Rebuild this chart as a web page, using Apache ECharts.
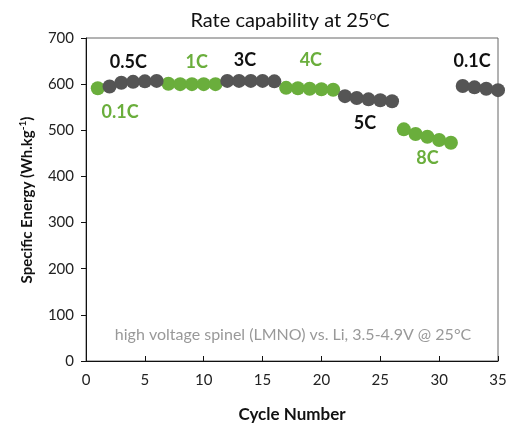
<!DOCTYPE html>
<html>
<head>
<meta charset="utf-8">
<script src="https://cdn.jsdelivr.net/npm/echarts@6/dist/echarts.min.js"></script>
<style>
  html, body { margin: 0; padding: 0; background: #fff; }
  #chart { width: 519px; height: 428px; }
</style>
</head>
<body>
<div id="chart"></div>
<script>
// rate steps, in test order
const stepRates = ["0.1C", "0.5C", "1C", "3C", "4C", "5C", "8C", "0.1C"];
const stepCycleCount = [1, 5, 5, 5, 5, 5, 5, 4];
// specific energy per cycle (Wh/kg), cycles 1..35
const energy = [
  591,
  595, 603, 605, 606, 607,
  601, 600, 600, 600, 600,
  607, 607, 607, 607, 606,
  592, 591, 590, 589, 588,
  574, 570, 567, 565, 563,
  502, 492, 486, 479, 473,
  596, 593, 590, 587
];
const xTicks = [0, 5, 10, 15, 20, 25, 30, 35];

const GREEN = "#6aae3c";
const GRAY = "#555555";
const FONT = "Lato";

// split cycles into alternating green / gray steps
const greenPts = [];
const grayPts = [];
let cyc = 1;
stepCycleCount.forEach((n, i) => {
  for (let k = 0; k < n; k++) {
    const pt = [cyc, energy[cyc - 1]];
    (i % 2 === 0 ? greenPts : grayPts).push(pt);
    cyc++;
  }
});

// rate labels anchored in data space: [cycle, energy, step index, colour]
const rateLabels = [
  [2.9, 540, 0, GREEN],
  [3.6, 648, 1, "#111"],
  [9.4, 648, 2, GREEN],
  [13.5, 652, 3, "#111"],
  [19.1, 652, 4, GREEN],
  [23.7, 516, 5, "#111"],
  [29.0, 440, 6, GREEN],
  [32.8, 650, 7, "#111"]
];

const chart = echarts.init(document.getElementById("chart"));
chart.setOption({
  animation: false,
  textStyle: { fontFamily: FONT },
  title: {
    text: "Rate capability at 25{sup|o}C",
    left: 285,
    top: 5,
    textAlign: "center",
    textStyle: {
      fontFamily: FONT, fontSize: 20, fontWeight: "normal", color: "#111",
      rich: { sup: { fontSize: 12, verticalAlign: "top", padding: [0, 0, 9, 0], color: "#111", fontFamily: FONT } }
    }
  },
  grid: {
    left: 86, right: 21, top: 38, bottom: 67, outerBoundsMode: "none",
    show: true, borderColor: "#666", borderWidth: 1
  },
  xAxis: {
    type: "value", min: 0, max: 35, interval: 5,
    name: "Cycle Number", nameLocation: "middle", nameGap: 45,
    nameTextStyle: { fontFamily: FONT, fontSize: 17, fontWeight: "bold", color: "#111" },
    axisLine: { show: true, onZero: false, lineStyle: { color: "#111" } },
    axisTick: { show: true, inside: true, length: 5, lineStyle: { color: "#111" } },
    axisLabel: { fontFamily: FONT, fontSize: 15, color: "#222", margin: 12, customValues: xTicks },
    splitLine: { show: false }
  },
  yAxis: {
    type: "value", min: 0, max: 700, interval: 100,
    axisLine: { show: true, lineStyle: { color: "#111" } },
    axisTick: { show: true, inside: false, length: 5, lineStyle: { color: "#111" } },
    axisLabel: { fontFamily: FONT, fontSize: 15, color: "#222", margin: 12 },
    splitLine: { show: false }
  },
  series: [
    {
      type: "scatter", data: greenPts, symbol: "circle", symbolSize: 14,
      itemStyle: { color: GREEN, opacity: 1 }, z: 3
    },
    {
      type: "scatter", data: grayPts, symbol: "circle", symbolSize: 14,
      itemStyle: { color: GRAY, opacity: 1 }, z: 4
    },
    {
      type: "scatter", symbolSize: 0, silent: true,
      itemStyle: { opacity: 1 },
      data: rateLabels.map(r => ({
        value: [r[0], r[1]],
        label: { show: true, position: "inside", formatter: stepRates[r[2]], color: r[3] }
      })),
      label: { fontFamily: FONT, fontSize: 18, fontWeight: "bold", textBorderWidth: 0 },
      z: 5
    }
  ],
  graphic: [
    {
      type: "text",
      x: 27, y: 200, rotation: Math.PI / 2,
      style: {
        text: "Specific Energy (Wh.kg{sup|-1})",
        fontFamily: FONT, fontSize: 15, fontWeight: "bold", fill: "#111",
        align: "center", verticalAlign: "middle",
        rich: { sup: { fontSize: 10, fontWeight: "bold", verticalAlign: "top", padding: [0, 0, 8, 0], fill: "#111", fontFamily: FONT } }
      }
    },
    {
      type: "text",
      x: 293, y: 335,
      style: {
        text: "high voltage spinel (LMNO) vs. Li, 3.5-4.9V @ 25°C",
        fontFamily: FONT, fontSize: 16, fill: "#999",
        align: "center", verticalAlign: "middle"
      }
    }
  ]
});
</script>
</body>
</html>
